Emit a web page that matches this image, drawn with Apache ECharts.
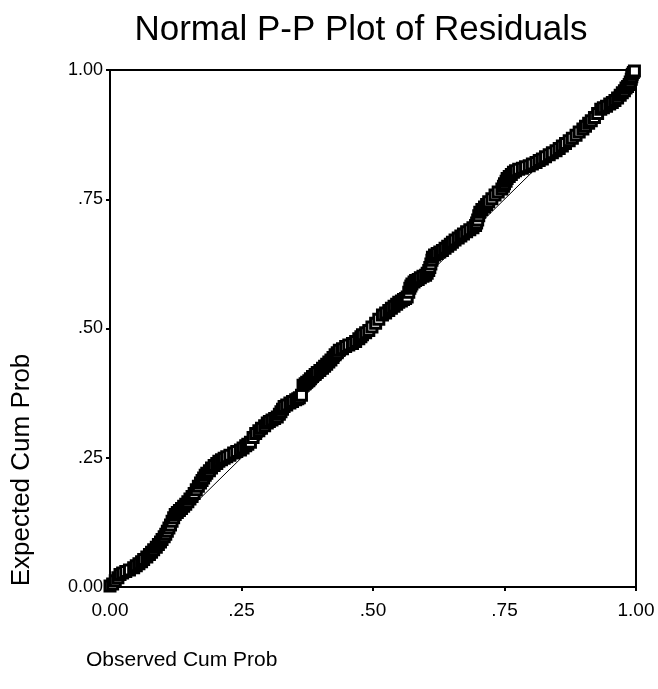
<!DOCTYPE html>
<html>
<head>
<meta charset="utf-8">
<script src="https://cdn.jsdelivr.net/npm/echarts@6/dist/echarts.min.js"></script>
<style>
html,body{margin:0;padding:0;background:#fff;}
#chart{width:658px;height:689px;}
</style>
</head>
<body>
<div id="chart"></div>
<script>
// Observed cumulative probability (x) and expected cumulative probability (y) of residuals
const observedCumProb = [
0.000,0.005,0.010,0.015,0.019,0.024,0.030,0.037,0.045,0.050,
0.055,0.060,0.064,0.070,0.075,0.079,0.083,0.088,0.092,0.096,
0.099,0.103,0.106,0.109,0.112,0.115,0.118,0.121,0.124,0.128,
0.132,0.136,0.140,0.144,0.148,0.152,0.156,0.160,0.164,0.168,
0.172,0.175,0.178,0.181,0.184,0.189,0.193,0.198,0.203,0.207,
0.212,0.217,0.222,0.228,0.235,0.241,0.248,0.253,0.258,0.262,
0.267,0.272,0.277,0.283,0.288,0.294,0.299,0.303,0.308,0.313,
0.318,0.322,0.325,0.328,0.331,0.336,0.342,0.347,0.353,0.357,
0.360,0.364,0.367,0.371,0.374,0.378,0.381,0.385,0.390,0.394,
0.399,0.404,0.408,0.412,0.416,0.420,0.424,0.428,0.432,0.436,
0.442,0.448,0.454,0.461,0.467,0.473,0.477,0.480,0.486,0.492,
0.498,0.505,0.511,0.518,0.524,0.530,0.535,0.540,0.545,0.549,
0.554,0.558,0.562,0.565,0.568,0.570,0.572,0.574,0.578,0.581,
0.586,0.590,0.595,0.600,0.603,0.606,0.608,0.610,0.612,0.613,
0.617,0.622,0.627,0.632,0.637,0.642,0.647,0.651,0.656,0.662,
0.667,0.672,0.678,0.684,0.690,0.695,0.697,0.699,0.701,0.703,
0.707,0.712,0.716,0.720,0.726,0.732,0.738,0.745,0.748,0.750,
0.753,0.755,0.759,0.763,0.767,0.771,0.777,0.784,0.790,0.797,
0.803,0.810,0.816,0.822,0.828,0.835,0.841,0.848,0.854,0.860,
0.866,0.873,0.879,0.886,0.892,0.899,0.904,0.910,0.915,0.921,
0.927,0.933,0.938,0.944,0.950,0.955,0.960,0.965,0.970,0.974,
0.978,0.981,0.984,0.987,0.989,0.991,0.992,0.993,0.995,0.997
];
const expectedCumProb = [
0.002,0.006,0.012,0.018,0.024,0.027,0.030,0.033,0.037,0.041,
0.045,0.049,0.053,0.058,0.063,0.067,0.072,0.077,0.082,0.087,
0.092,0.097,0.102,0.108,0.114,0.120,0.127,0.134,0.140,0.144,
0.148,0.152,0.156,0.160,0.165,0.170,0.175,0.181,0.188,0.195,
0.201,0.206,0.211,0.216,0.220,0.225,0.230,0.235,0.239,0.243,
0.246,0.249,0.252,0.255,0.259,0.262,0.265,0.269,0.273,0.276,
0.280,0.289,0.297,0.302,0.307,0.312,0.317,0.320,0.323,0.326,
0.329,0.334,0.339,0.344,0.349,0.352,0.356,0.359,0.362,0.364,
0.366,0.371,0.390,0.393,0.396,0.399,0.403,0.407,0.411,0.415,
0.419,0.423,0.427,0.431,0.435,0.439,0.444,0.449,0.453,0.458,
0.461,0.465,0.468,0.471,0.475,0.480,0.484,0.488,0.492,0.496,
0.503,0.510,0.518,0.526,0.530,0.535,0.539,0.543,0.547,0.551,
0.553,0.556,0.558,0.561,0.570,0.578,0.582,0.586,0.590,0.593,
0.595,0.598,0.601,0.603,0.607,0.612,0.618,0.625,0.632,0.638,
0.642,0.645,0.648,0.651,0.655,0.659,0.663,0.667,0.671,0.675,
0.679,0.683,0.687,0.691,0.695,0.699,0.704,0.710,0.718,0.725,
0.730,0.735,0.740,0.745,0.751,0.758,0.764,0.770,0.775,0.780,
0.785,0.790,0.794,0.798,0.802,0.805,0.808,0.810,0.813,0.815,
0.818,0.821,0.825,0.828,0.832,0.836,0.840,0.844,0.848,0.853,
0.858,0.863,0.868,0.874,0.880,0.886,0.891,0.897,0.902,0.908,
0.916,0.924,0.927,0.930,0.934,0.937,0.941,0.946,0.951,0.956,
0.960,0.965,0.968,0.972,0.977,0.982,0.987,0.992,0.995,0.998
];
const referenceLineX = [0, 1];
const referenceLineY = [0, 1];
const tickValues = [0, 0.25, 0.5, 0.75, 1];
const xTickLabels = ['0.00', '.25', '.50', '.75', '1.00'];
const yTickLabels = ['0.00', '.25', '.50', '.75', '1.00'];
const titleText = 'Normal P-P Plot of Residuals';
const xAxisName = 'Observed Cum Prob';
const yAxisName = 'Expected Cum Prob';

const FONT = '"Liberation Sans", Arial, sans-serif';
function labelFor(labels) {
  return function (v) {
    for (let i = 0; i < tickValues.length; i++) {
      if (Math.abs(tickValues[i] - v) < 1e-9) return labels[i];
    }
    return '';
  };
}

const chart = echarts.init(document.getElementById('chart'), null, {renderer: 'canvas'});
const points = observedCumProb.map((x, i) => [x, expectedCumProb[i]]);
const refLine = referenceLineX.map((x, i) => [x, referenceLineY[i]]);

chart.setOption({
  backgroundColor: '#fff',
  animation: false,
  grid: {left: 110, right: 22, top: 70, bottom: 102, show: true, borderColor: '#000', borderWidth: 2, backgroundColor: 'transparent'},
  graphic: [
    {type: 'text', x: 361, y: 30, style: {text: titleText, font: '35px ' + FONT, fill: '#000', textAlign: 'center', textVerticalAlign: 'middle'}},
    {type: 'text', x: 22, y: 470, rotation: Math.PI / 2, style: {text: yAxisName, font: '26px ' + FONT, fill: '#000', textAlign: 'center', textVerticalAlign: 'middle'}},
    {type: 'text', x: 86, y: 660, style: {text: xAxisName, font: '21px ' + FONT, fill: '#000', textAlign: 'left', textVerticalAlign: 'middle'}}
  ],
  xAxis: {
    type: 'value', min: 0, max: 1, interval: 0.25,
    axisLine: {show: true, lineStyle: {color: '#000', width: 2}},
    axisTick: {show: true, inside: false, length: 4, lineStyle: {color: '#000', width: 2}},
    splitLine: {show: false},
    axisLabel: {color: '#000', fontFamily: FONT, fontSize: 19, margin: 14, formatter: labelFor(xTickLabels)}
  },
  yAxis: {
    type: 'value', min: 0, max: 1, interval: 0.25,
    axisLine: {show: true, lineStyle: {color: '#000', width: 2}},
    axisTick: {show: true, inside: false, length: 4, lineStyle: {color: '#000', width: 2}},
    splitLine: {show: false},
    axisLabel: {color: '#000', fontFamily: FONT, fontSize: 18, margin: 7, formatter: labelFor(yTickLabels)}
  },
  series: [
    {
      type: 'line', data: refLine, symbol: 'none', silent: true,
      lineStyle: {color: '#000', width: 1}, z: 2
    },
    {
      type: 'scatter', data: points, symbol: 'rect', symbolSize: 10,
      itemStyle: {color: '#fff', borderColor: '#000', borderWidth: 3, opacity: 1}, z: 3
    }
  ]
});
</script>
</body>
</html>
